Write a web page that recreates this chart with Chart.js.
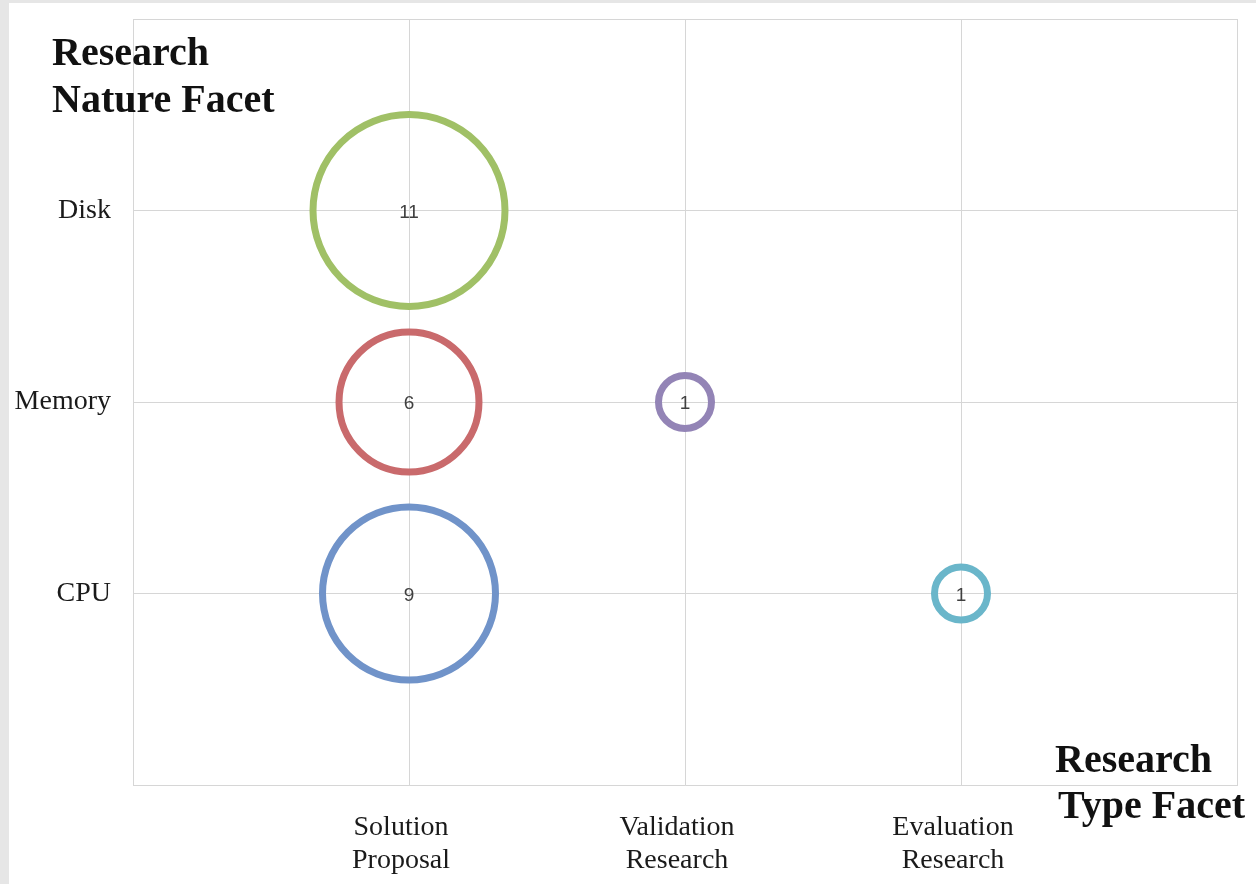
<!DOCTYPE html>
<html>
<head>
<meta charset="utf-8">
<script src="https://cdn.jsdelivr.net/npm/chart.js@4.4.1/dist/chart.umd.min.js"></script>
<style>
  html, body { margin: 0; padding: 0; background: #e6e6e6; }
  body { width: 1256px; height: 884px; overflow: hidden; position: relative; }
  #frame { position: absolute; left: 9px; top: 3px; width: 1247px; height: 881px; background: #fff; }
  canvas { display: block; }
</style>
</head>
<body>
<div id="frame"><canvas id="facetChart" width="1247" height="881"></canvas></div>
<script>
// Axis categories (position 1..3 on each axis)
const typeLabels = [['Solution', 'Proposal'], ['Validation', 'Research'], ['Evaluation', 'Research']];
const natureLabels = ['CPU', 'Memory', 'Disk'];

// Bubbles: type index, nature index, paper count
const bubbleType = [1, 1, 1, 2, 3];
const bubbleNature = [3, 2, 1, 2, 1];
const bubbleCounts = [11, 6, 9, 1, 1];
const bubbleColors = ['#a0c066', '#c96a6c', '#7093c9', '#9384b6', '#6ab6ca'];

const serif = "'Liberation Serif', 'Times New Roman', serif";

// Bubble area follows the count
function bubbleRadius(count) {
    return 30 * Math.sqrt(count) - 3.5;
}

const points = bubbleCounts.map((count, i) => ({
    x: bubbleType[i],
    y: bubbleNature[i],
    r: bubbleRadius(count),
    count: count
}));

// Count in the middle of each bubble, plus the two facet captions
const facetText = {
    id: 'facetText',
    afterDatasetsDraw(chart) {
        const ctx = chart.ctx;
        const meta = chart.getDatasetMeta(0);
        ctx.save();
        ctx.font = "19px 'Liberation Sans', Arial, sans-serif";
        ctx.fillStyle = '#404040';
        ctx.textAlign = 'center';
        ctx.textBaseline = 'middle';
        meta.data.forEach((el, i) => {
            ctx.fillText(String(bubbleCounts[i]), el.x, el.y + 2);
        });
        ctx.restore();
    },
    afterDraw(chart) {
        const ctx = chart.ctx;
        ctx.save();
        ctx.font = 'bold 40px ' + serif;
        ctx.fillStyle = '#111';
        ctx.textAlign = 'left';
        ctx.textBaseline = 'alphabetic';
        ctx.fillText('Research', 43, 62);
        ctx.fillText('Nature Facet', 43, 109);
        ctx.fillText('Research', 1046, 769);
        ctx.fillText('Type Facet', 1049, 815);
        ctx.restore();
    }
};

const gridColor = '#d6d6d6';

new Chart(document.getElementById('facetChart'), {
    type: 'bubble',
    data: {
        datasets: [{
            data: points,
            backgroundColor: 'rgba(255,255,255,0)',
            borderColor: bubbleColors,
            borderWidth: 7,
            hoverBorderWidth: 7
        }]
    },
    options: {
        responsive: false,
        animation: false,
        events: [],
        layout: { autoPadding: false, padding: { top: 16, right: 19, left: 0, bottom: 0 } },
        plugins: {
            legend: { display: false },
            tooltip: { enabled: false }
        },
        scales: {
            x: {
                type: 'linear',
                min: 0,
                max: 4,
                afterFit(scale) {
                    scale.height = 99;
                    scale.paddingLeft = 0;
                    scale.paddingRight = 0;
                },
                grid: { color: gridColor, drawTicks: false },
                border: { color: gridColor },
                ticks: {
                    stepSize: 1,
                    autoSkip: false,
                    maxRotation: 0,
                    padding: 27,
                    labelOffset: -8,
                    color: '#1a1a1a',
                    font: { family: serif, size: 28, lineHeight: 1.15 },
                    callback: v => typeLabels[v - 1] || ''
                }
            },
            y: {
                type: 'linear',
                min: 0,
                max: 4,
                afterFit(scale) {
                    scale.width = 124;
                    scale.paddingTop = 0;
                    scale.paddingBottom = 0;
                },
                grid: { color: gridColor, drawTicks: false },
                border: { color: gridColor },
                ticks: {
                    stepSize: 1,
                    padding: 22,
                    color: '#1a1a1a',
                    font: { family: serif, size: 28 },
                    callback: v => natureLabels[v - 1] || ''
                }
            }
        }
    },
    plugins: [facetText]
});
</script>
</body>
</html>
